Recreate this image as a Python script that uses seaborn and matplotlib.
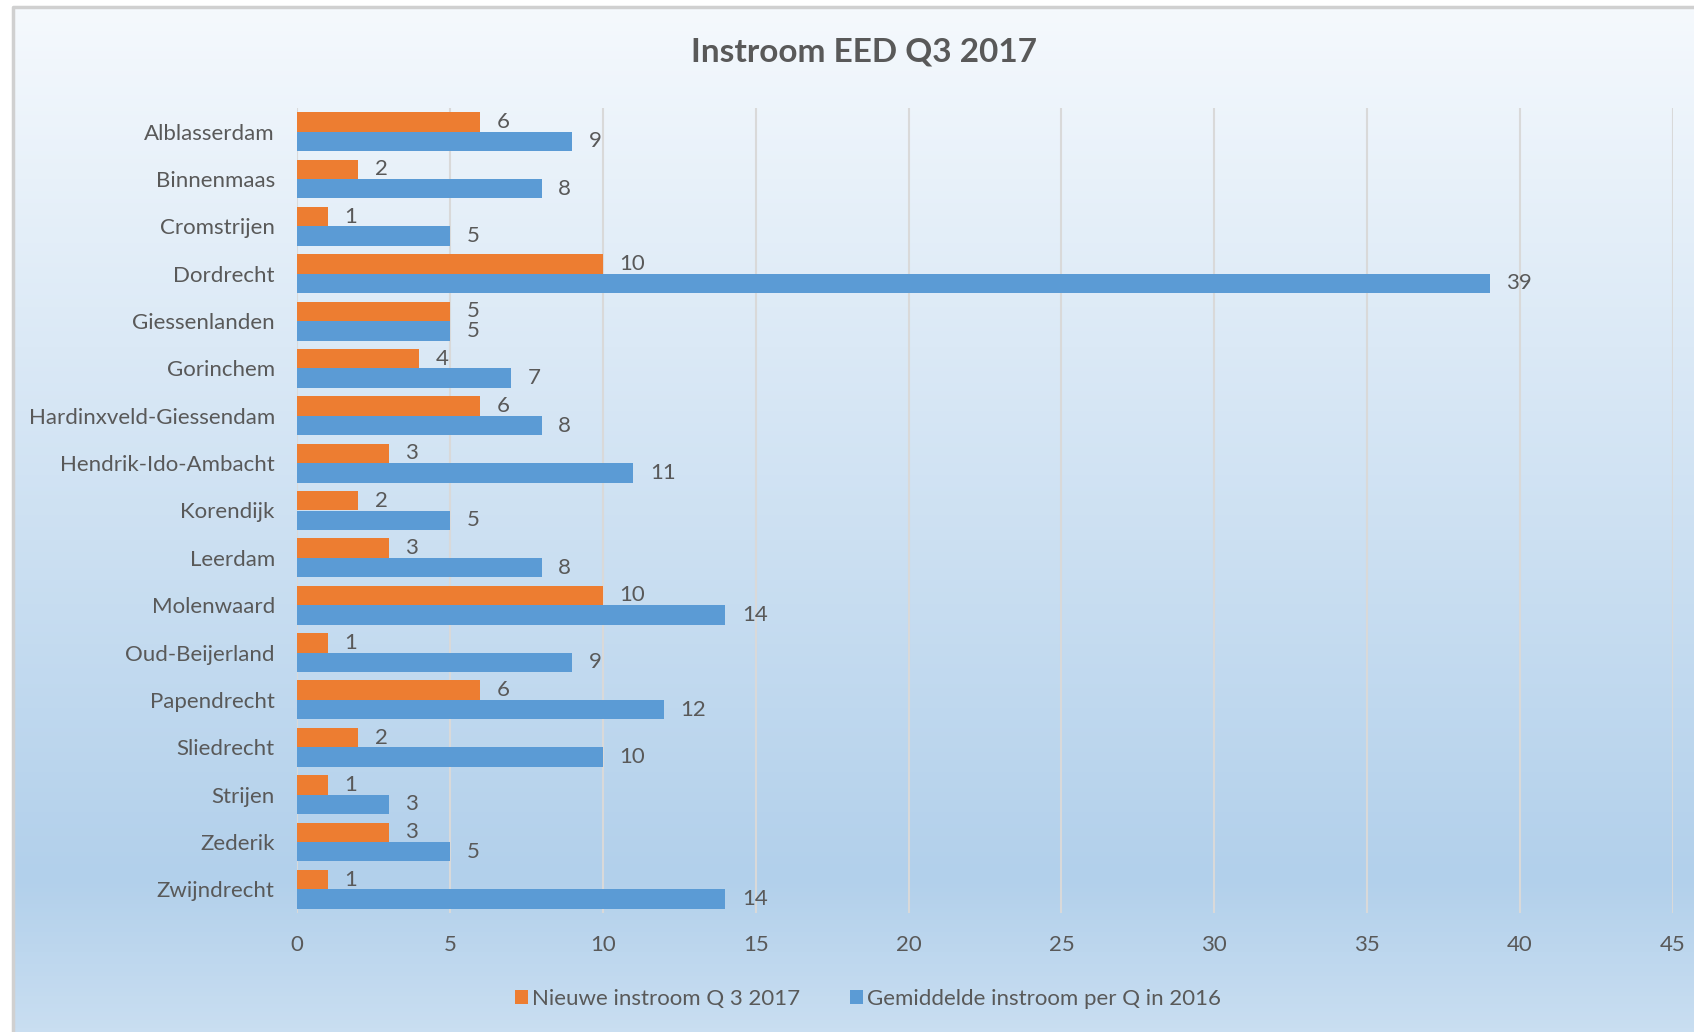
import numpy as np
import pandas as pd
import seaborn as sns
import matplotlib.pyplot as plt
from matplotlib.colors import LinearSegmentedColormap

#%% data

gemeenten = ['Alblasserdam', 'Binnenmaas', 'Cromstrijen', 'Dordrecht', 'Giessenlanden',
             'Gorinchem', 'Hardinxveld-Giessendam', 'Hendrik-Ido-Ambacht', 'Korendijk',
             'Leerdam', 'Molenwaard', 'Oud-Beijerland', 'Papendrecht', 'Sliedrecht',
             'Strijen', 'Zederik', 'Zwijndrecht']
nieuw_q3_2017 = [6, 2, 1, 10, 5, 4, 6, 3, 2, 3, 10, 1, 6, 2, 1, 3, 1]
gem_2016 = [9, 8, 5, 39, 5, 7, 8, 11, 5, 8, 14, 9, 12, 10, 3, 5, 14]
series_names = ['Nieuwe instroom Q 3 2017', 'Gemiddelde instroom per Q in 2016']
xticks = [0, 5, 10, 15, 20, 25, 30, 35, 40, 45]

df = pd.DataFrame({'gemeente': gemeenten * 2,
                   'waarde': nieuw_q3_2017 + gem_2016,
                   'reeks': [series_names[0]] * len(gemeenten) + [series_names[1]] * len(gemeenten)})

#%% plot

sns.set_style('white')
plt.rcParams['font.family'] = ['Lato', 'DejaVu Sans']
txt = '#595959'

fig = plt.figure(figsize=(16.94, 10.32), dpi=100)

# achtergrond met verloop
bg = fig.add_axes([0, 0, 1, 1], zorder=-10)
bg.set_xlim(0, 1694)
bg.set_ylim(1032, 0)
bg.axis('off')
cmap = LinearSegmentedColormap.from_list('bg', [(0, '#F5F9FD'), (0.85, '#B2D0EB'), (1, '#C9DEF1')])
grad = np.linspace(0, 1, 256).reshape(-1, 1)
bg.imshow(grad, cmap=cmap, aspect='auto', extent=(13, 1694, 1032, 7), zorder=0)
bg.plot([13, 13, 1694], [1032, 7, 7], color='#D0D0D0', lw=2.5, zorder=1)

ax = fig.add_axes([297 / 1694, 119 / 1032, (1673 - 297) / 1694, (924 - 119) / 1032])
ax.patch.set_alpha(0)
sns.barplot(data=df, x='waarde', y='gemeente', hue='reeks', orient='h',
            palette=['#ED7D31', '#5B9BD5'], width=0.82, ax=ax, saturation=1, linewidth=0)

for c in ax.containers:
    ax.bar_label(c, padding=12, fontsize=16, color=txt)

ax.set_xlim(0, 45)
ax.set_xticks(xticks)
ax.set_ylim(16.5, -0.5)
ax.xaxis.grid(True, color='#D9D9D9', lw=1.5)
ax.set_axisbelow(True)
for s in ax.spines.values():
    s.set_visible(False)
ax.tick_params(axis='both', length=0, labelsize=16, colors=txt)
ax.tick_params(axis='x', pad=16)
ax.tick_params(axis='y', pad=16)
ax.set_xlabel('')
ax.set_ylabel('')

ax.legend(loc='center', bbox_to_anchor=(868 / 1694, 1 - 999 / 1032), bbox_transform=fig.transFigure,
          ncol=2, frameon=False, fontsize=16, labelcolor=txt, handlelength=0.6, handleheight=0.6,
          handletextpad=0.2, columnspacing=2.2)

fig.text(864 / 1694, 1 - 52 / 1032, 'Instroom EED Q3 2017', ha='center', va='center',
         fontsize=24, fontweight='bold', color=txt)

plt.savefig('out.png', dpi=100)
